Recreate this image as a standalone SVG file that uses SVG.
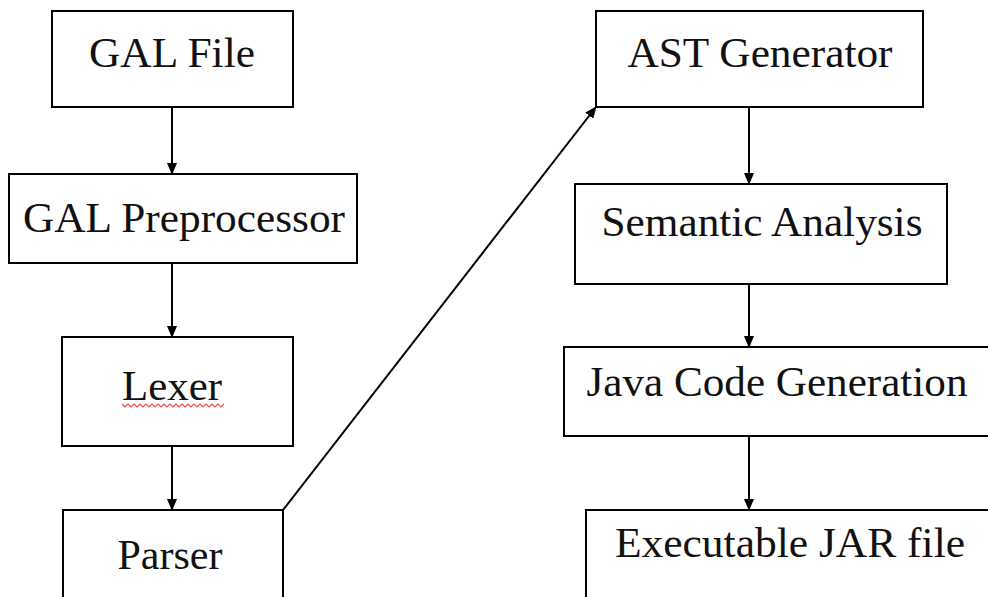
<svg xmlns="http://www.w3.org/2000/svg" width="988" height="597" viewBox="0 0 988 597">
<style>
.box{fill:#fff;stroke:#000;stroke-width:2}
.lbl{font-family:"Liberation Serif","Times New Roman",serif;font-size:42px;fill:#111;text-anchor:middle}
.conn{stroke:#000;stroke-width:2;fill:none}
</style>
<defs>
<marker id="ah" markerUnits="userSpaceOnUse" markerWidth="12" markerHeight="10" refX="11" refY="5" orient="auto">
<path d="M0,0 L12,5 L0,10 Z" fill="#000"/>
</marker>
</defs>
<rect width="988" height="597" fill="#fff"/>
<g id="connectors">
<line class="conn" x1="172" y1="107" x2="172" y2="174" marker-end="url(#ah)"/>
<line class="conn" x1="172" y1="263" x2="172" y2="337" marker-end="url(#ah)"/>
<line class="conn" x1="172" y1="446" x2="172" y2="510" marker-end="url(#ah)"/>
<line class="conn" x1="283" y1="510" x2="596" y2="107" stroke-width="1.6" marker-end="url(#ah)"/>
<line class="conn" x1="749" y1="107" x2="749" y2="184" marker-end="url(#ah)"/>
<line class="conn" x1="749" y1="284" x2="749" y2="347" marker-end="url(#ah)"/>
<line class="conn" x1="749" y1="436" x2="749" y2="510" marker-end="url(#ah)"/>
</g>
<g id="gal-file">
<rect class="box" x="52" y="11" width="241" height="96"/>
<text class="lbl" x="172" y="67" textLength="166" lengthAdjust="spacingAndGlyphs">GAL File</text>
</g>
<g id="gal-preprocessor">
<rect class="box" x="9" y="174" width="348" height="89"/>
<text class="lbl" x="184" y="232" textLength="322" lengthAdjust="spacingAndGlyphs">GAL Preprocessor</text>
</g>
<g id="lexer">
<rect class="box" x="62" y="337" width="231" height="109"/>
<text class="lbl" x="172" y="400" textLength="100" lengthAdjust="spacingAndGlyphs">Lexer</text>
<path d="M122,404 l3,3 l3,-3 l3,3 l3,-3 l3,3 l3,-3 l3,3 l3,-3 l3,3 l3,-3 l3,3 l3,-3 l3,3 l3,-3 l3,3 l3,-3 l3,3 l3,-3 l3,3 l3,-3 l3,3 l3,-3 l3,3 l3,-3 l3,3 l3,-3 l3,3 l3,-3 l3,3 l3,-3 l3,3 l3,-3 l3,3 l3,-3" fill="none" stroke="#e85050" stroke-width="1.2"/>
</g>
<g id="parser">
<rect class="box" x="63" y="510" width="220" height="100"/>
<text class="lbl" x="170" y="569" textLength="105" lengthAdjust="spacingAndGlyphs">Parser</text>
</g>
<g id="ast-generator">
<rect class="box" x="596" y="11" width="327" height="96"/>
<text class="lbl" x="760" y="67" textLength="265" lengthAdjust="spacingAndGlyphs">AST Generator</text>
</g>
<g id="semantic-analysis">
<rect class="box" x="575" y="184" width="372" height="100"/>
<text class="lbl" x="762" y="236" textLength="321" lengthAdjust="spacingAndGlyphs">Semantic Analysis</text>
</g>
<g id="java-code-generation">
<rect class="box" x="564" y="347" width="440" height="89"/>
<text class="lbl" x="777" y="396" textLength="381" lengthAdjust="spacingAndGlyphs">Java Code Generation</text>
</g>
<g id="executable-jar">
<rect class="box" x="586" y="510" width="420" height="100"/>
<text class="lbl" x="790" y="557" textLength="350" lengthAdjust="spacingAndGlyphs">Executable JAR file</text>
</g>
</svg>
